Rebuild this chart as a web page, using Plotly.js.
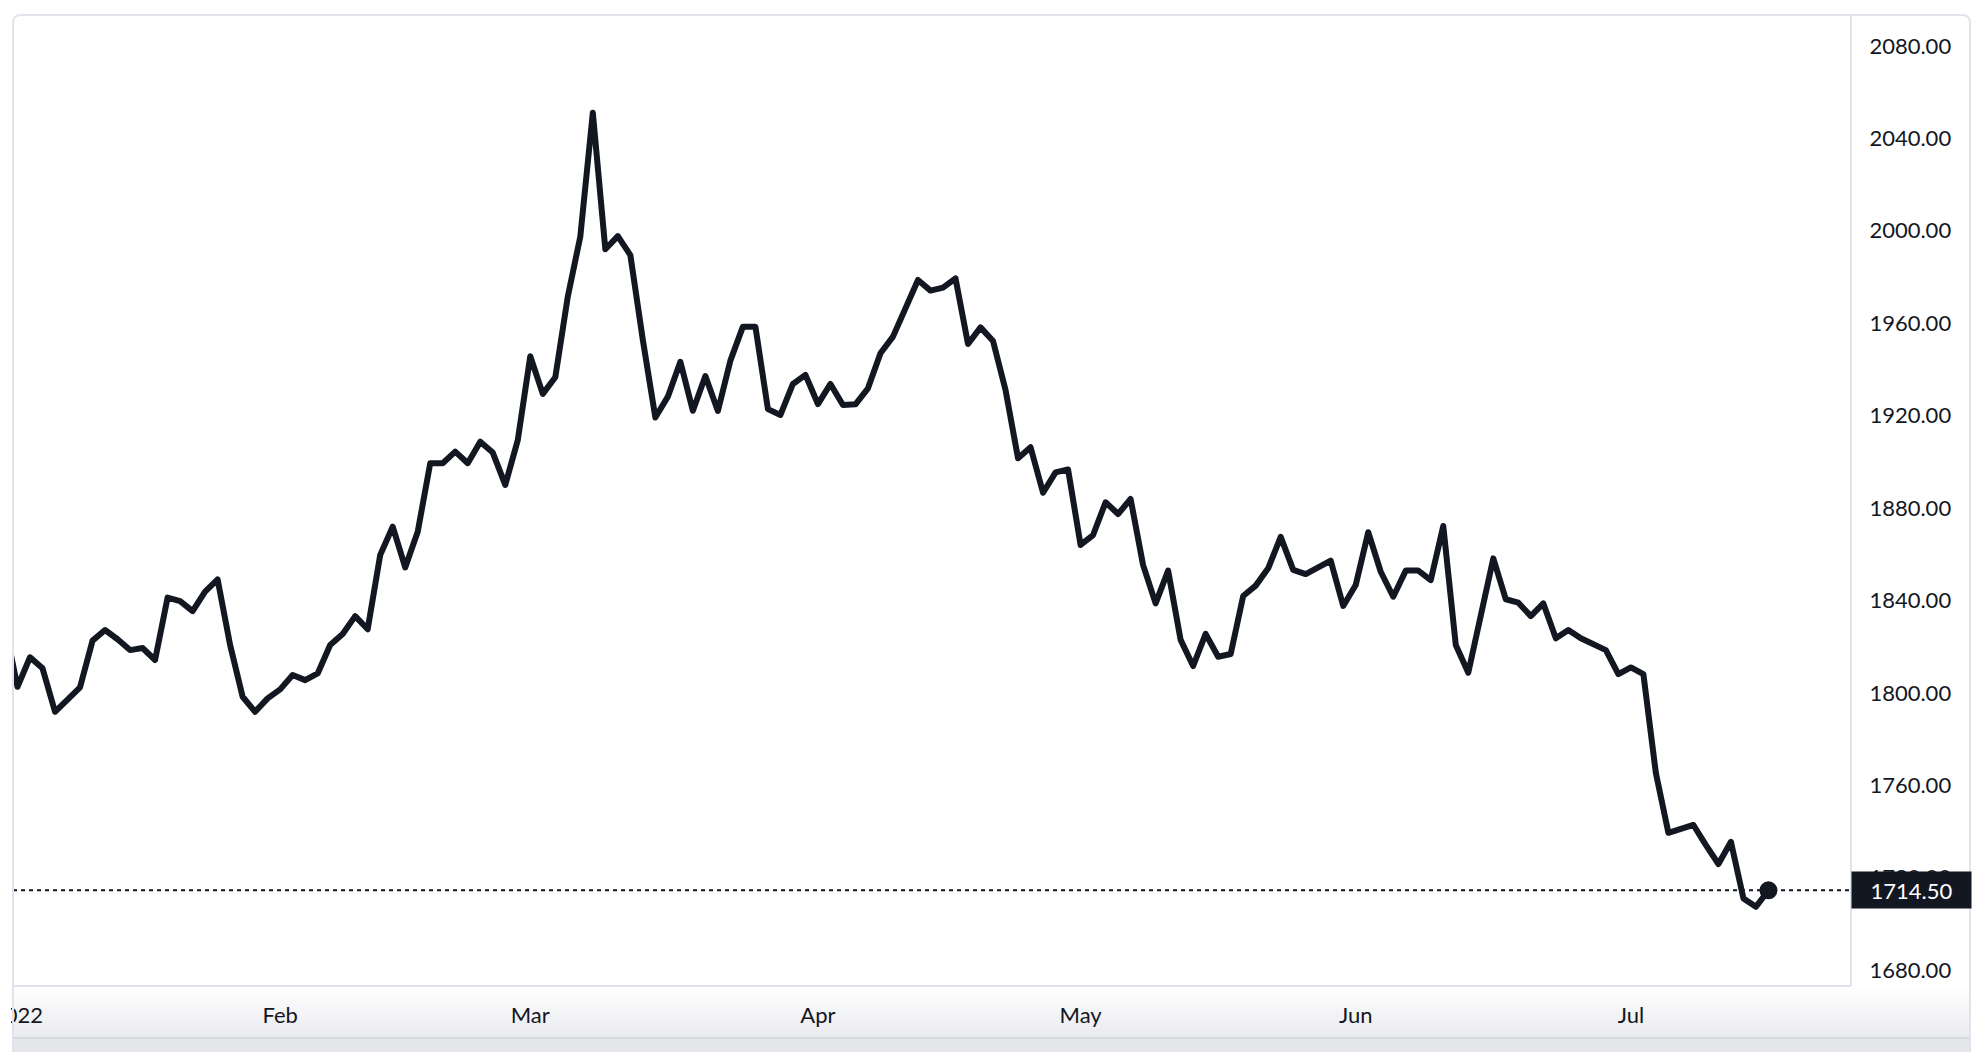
<!DOCTYPE html>
<html>
<head>
<meta charset="utf-8">
<script src="https://cdn.plot.ly/plotly-3.0.1.min.js"></script>
<style>
  html, body { margin: 0; padding: 0; background: #ffffff; overflow: hidden; }
  #chart { position: absolute; left: 11px; top: 0; width: 1977px; height: 1052px; }
  /* round joins like the original chart */
  #chart .js-line { stroke-linejoin: round; stroke-linecap: round; }
</style>
</head>
<body>
<div id="chart"></div>
<script>
// Gold daily closes, Jan - Jul 2022
const prevYear = 2021;
const decDays = [31];
const decClose = [1829.0];

const janDays = [3, 4, 5, 6, 7, 10, 11, 12, 13, 14, 17, 18, 19, 20, 21, 24, 25, 26, 27, 28, 31];
const janClose = [1802.6, 1815.4, 1810.6, 1791.8, 1796.9, 1802.4, 1822.6, 1827.2, 1823.2, 1818.5, 1819.4,
                  1814.2, 1841.2, 1839.7, 1835.4, 1843.8, 1849.1, 1820.7, 1798.3, 1791.8, 1797.6];

const febDays = [1, 2, 3, 4, 7, 8, 9, 10, 11, 14, 15, 16, 17, 18, 21, 22, 23, 24, 25, 28];
const febClose = [1801.5, 1807.7, 1805.5, 1808.4, 1820.7, 1825.5, 1833.2, 1827.5, 1859.7, 1871.9,
                  1854.3, 1869.7, 1899.4, 1899.4, 1904.4, 1899.4, 1908.7, 1904.0, 1890.0, 1909.4];

const marDays = [1, 2, 3, 4, 7, 8, 9, 10, 11, 14, 15, 16, 17, 18, 21, 22, 23, 24, 25, 28, 29, 30, 31];
const marClose = [1945.7, 1929.4, 1936.6, 1971.5, 1997.5, 2051.1, 1992.0, 1997.7, 1989.5, 1952.7, 1919.2,
                  1928.2, 1943.3, 1922.1, 1937.1, 1922.0, 1943.8, 1958.5, 1958.5, 1922.8, 1920.3, 1933.7, 1937.6];

const aprDays = [1, 4, 5, 6, 7, 8, 11, 12, 13, 14, 15, 18, 19, 20, 21, 22, 25, 26, 27, 28, 29];
const aprClose = [1925.0, 1933.7, 1924.6, 1924.9, 1931.8, 1947.0, 1954.2, 1966.4, 1978.7, 1974.1, 1975.4,
                  1979.4, 1951.0, 1958.2, 1952.3, 1931.1, 1901.5, 1906.3, 1886.6, 1895.4, 1896.7];

const mayDays = [2, 3, 4, 5, 6, 9, 10, 11, 12, 13, 16, 17, 18, 19, 20, 23, 24, 25, 26, 27, 30, 31];
const mayClose = [1864.0, 1868.3, 1882.5, 1877.4, 1883.9, 1855.3, 1838.7, 1852.9, 1822.9, 1811.6, 1825.5,
                  1815.6, 1816.8, 1841.9, 1846.4, 1853.9, 1867.5, 1853.2, 1851.4, 1854.6, 1857.2, 1837.6];

const junDays = [1, 2, 3, 6, 7, 8, 9, 10, 13, 14, 15, 16, 17, 20, 21, 22, 23, 24, 27, 28, 29, 30];
const junClose = [1846.7, 1869.5, 1852.4, 1841.6, 1852.9, 1852.9, 1848.8, 1872.2, 1820.7, 1808.7, 1832.9,
                  1858.2, 1840.5, 1839.0, 1833.2, 1838.7, 1823.6, 1827.2, 1823.6, 1820.7, 1818.5, 1808.1];

const julDays = [1, 4, 5, 6, 7, 8, 11, 12, 13, 14, 15, 18];
const julClose = [1811.0, 1808.1, 1765.2, 1739.4, 1741.0, 1742.8, 1734.1, 1725.9, 1735.5, 1711.0, 1707.4, 1714.5];

// month tick labels on the time scale
const tickDates = ['2022-01-03', '2022-02-01', '2022-03-01', '2022-04-01', '2022-05-02', '2022-06-01', '2022-07-01'];
const tickText = ['2022', 'Feb', 'Mar', 'Apr', 'May', 'Jun', 'Jul'];

// price scale
const priceTicks = [1680, 1720, 1760, 1800, 1840, 1880, 1920, 1960, 2000, 2040, 2080];

// build the category list (one bar per weekday) and the close series
const pad = n => (n < 10 ? '0' : '') + n;
const months = [
  [prevYear, 12, decDays, decClose],
  [2022, 1, janDays, janClose],
  [2022, 2, febDays, febClose],
  [2022, 3, marDays, marClose],
  [2022, 4, aprDays, aprClose],
  [2022, 5, mayDays, mayClose],
  [2022, 6, junDays, junClose],
  [2022, 7, julDays, julClose]
];
const dates = [];
const closes = [];
months.forEach(([y, m, days, vals]) => {
  days.forEach((d, i) => {
    dates.push(y + '-' + pad(m) + '-' + pad(d));
    closes.push(vals[i]);
  });
});
const lastDate = dates[dates.length - 1];
const lastClose = closes[closes.length - 1];

// page pixel -> paper helpers (plot area spans x 13..1851, y 15..986)
const PX = x => (x - 13) / 1838;
const PY = y => (986 - y) / 971;

const ink = '#131722';
const borderCol = '#e0e3eb';
const font = { family: 'Lato, "Open Sans", sans-serif', size: 22, color: ink };

const lineTrace = {
  x: dates,
  y: closes,
  type: 'scatter',
  mode: 'lines',
  line: { color: ink, width: 6 },
  hoverinfo: 'skip'
};

const lastPoint = {
  x: [lastDate],
  y: [lastClose],
  type: 'scatter',
  mode: 'markers',
  marker: { color: ink, size: 18 },
  hoverinfo: 'skip'
};

const bandSvg = '<svg xmlns="http://www.w3.org/2000/svg" width="10" height="10" preserveAspectRatio="none">' +
  '<defs><linearGradient id="g" x1="0" y1="0" x2="0" y2="1">' +
  '<stop offset="0" stop-color="#ffffff"/><stop offset="1" stop-color="#e9eaee"/></linearGradient></defs>' +
  '<rect width="10" height="10" fill="url(#g)"/></svg>';

const cardPath = 'M ' + PX(13) + ',' + PY(1060) +
  ' L ' + PX(13) + ',' + PY(23) +
  ' Q ' + PX(13) + ',' + PY(15) + ' ' + PX(21) + ',' + PY(15) +
  ' L ' + PX(1962) + ',' + PY(15) +
  ' Q ' + PX(1970) + ',' + PY(15) + ' ' + PX(1970) + ',' + PY(23) +
  ' L ' + PX(1970) + ',' + PY(1060);

const layout = {
  width: 1977,
  height: 1052,
  margin: { l: 2, r: 137, t: 15, b: 66, pad: 0 },
  paper_bgcolor: '#ffffff',
  plot_bgcolor: '#ffffff',
  showlegend: false,
  hovermode: false,
  font: font,
  xaxis: {
    type: 'category',
    range: [0.64, 147.6],
    tickmode: 'array',
    tickvals: tickDates,
    ticktext: tickText,
    ticks: 'outside',
    ticklen: 10,
    tickcolor: 'rgba(0,0,0,0)',
    showgrid: false,
    zeroline: false,
    showline: false,
    tickfont: font,
    fixedrange: true
  },
  yaxis: {
    side: 'right',
    range: [1673.1, 2093.4],
    tickmode: 'array',
    tickvals: priceTicks,
    tickformat: '.2f',
    ticks: 'outside',
    ticklen: 13,
    tickcolor: 'rgba(0,0,0,0)',
    showgrid: false,
    zeroline: false,
    showline: false,
    tickfont: font,
    fixedrange: true
  },
  images: [{
    source: 'data:image/svg+xml;utf8,' + encodeURIComponent(bandSvg),
    xref: 'paper', yref: 'paper',
    x: PX(13), y: PY(986),
    sizex: PX(1970) - PX(13), sizey: PY(986) - PY(1038),
    xanchor: 'left', yanchor: 'top',
    sizing: 'stretch',
    layer: 'below'
  }],
  shapes: [
    // last price dotted line
    {
      type: 'line', xref: 'paper', yref: 'y',
      x0: 0, x1: 1, y0: lastClose, y1: lastClose,
      line: { color: ink, width: 2, dash: '4px,4px' },
      layer: 'below'
    },
    // bottom gray strip
    {
      type: 'rect', xref: 'paper', yref: 'paper',
      x0: PX(13), x1: PX(1970), y0: PY(1038), y1: PY(1060),
      fillcolor: '#e6e7eb', line: { width: 0 }
    },
    // time scale bottom line
    {
      type: 'line', xref: 'paper', yref: 'paper',
      x0: PX(13), x1: PX(1970), y0: PY(1038), y1: PY(1038),
      line: { color: '#d6d8de', width: 2 }
    },
    // plot area right border (price scale separator)
    {
      type: 'line', xref: 'paper', yref: 'paper',
      x0: 1, x1: 1, y0: 0, y1: 1,
      line: { color: borderCol, width: 2 }
    },
    // plot area bottom border (time scale separator)
    {
      type: 'line', xref: 'paper', yref: 'paper',
      x0: 0, x1: 1, y0: 0, y1: 0,
      line: { color: borderCol, width: 2 }
    },
    // card outline
    {
      type: 'path', xref: 'paper', yref: 'paper',
      path: cardPath,
      line: { color: borderCol, width: 2 }
    }
  ],
  annotations: [{
    xref: 'paper', yref: 'y',
    x: 1, y: lastClose,
    xanchor: 'left', yanchor: 'middle',
    text: lastClose.toFixed(2),
    showarrow: false,
    bgcolor: ink,
    font: { family: font.family, size: 22, color: '#ffffff' },
    width: 119, height: 36,
    borderpad: 0,
    align: 'center'
  }]
};

Plotly.newPlot('chart', [lineTrace, lastPoint], layout, { staticPlot: true, displayModeBar: false });
</script>
</body>
</html>
